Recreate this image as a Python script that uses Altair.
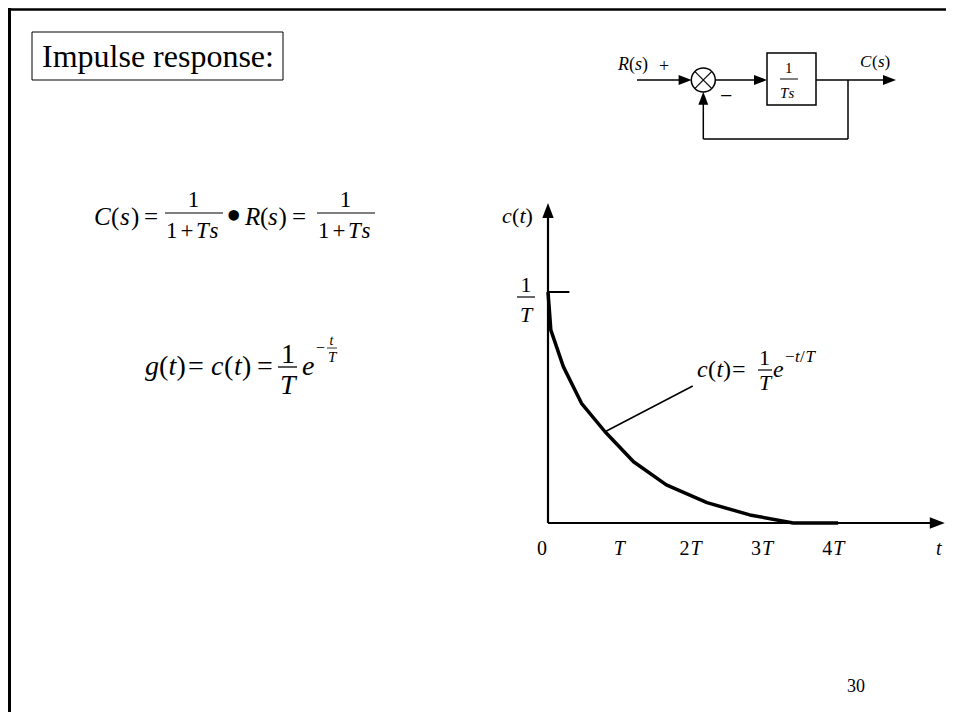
import altair as alt
import pandas as pd

FONT = "Liberation Serif"

# ---------------- values ----------------
# impulse response c(t): t in units of T, c in units of 1/T
curve_t = [0.0, 0.04, 0.215, 0.47, 0.80, 1.20, 1.66, 2.23, 2.83, 3.44, 4.07]
curve_c = [1.0, 0.835, 0.677, 0.518, 0.395, 0.265, 0.165, 0.088, 0.035, 0.0, 0.0]

axis_labels = ["0", "T", "2T", "3T", "4T", "t"]
axis_label_t = [0, 1, 2, 3, 4, 5.48]
label_c = -0.1385            # level of the time-axis labels (c units)

x_axis_end = 5.565           # arrow tip of the time axis (t units)
y_axis_end = 1.385           # arrow tip of the c(t) axis (c units)
level_tick_t = [0.0, 0.30]   # short mark at c = 1/T
leader_t = [0.80, 2.03]      # leader line from the curve to its formula
leader_c = [0.395, 0.593]

# ---------------- scales ----------------
W, H = 938, 704
T_SCALE = alt.Scale(domain=[(8 - 548) / 71.3, (946 - 548) / 71.3], nice=False, zero=False)
C_SCALE = alt.Scale(domain=[(523 - 712) / 231, (523 - 8) / 231], nice=False, zero=False)
PX_SCALE = alt.Scale(domain=[8, 946], nice=False, zero=False)
PY_SCALE = alt.Scale(domain=[8, 712], nice=False, zero=False, reverse=True)


def tx(f):
    return alt.X(f, type="quantitative", scale=T_SCALE, axis=None)


def cy(f):
    return alt.Y(f, type="quantitative", scale=C_SCALE, axis=None)


def px(f):
    return alt.X(f, type="quantitative", scale=PX_SCALE, axis=None)


def py(f):
    return alt.Y(f, type="quantitative", scale=PY_SCALE, axis=None)


ARROW = "M0,0L-2,-0.76L-2,0.76Z"

# ---------------- plot layers (data units) ----------------
curve_df = pd.DataFrame({"t": curve_t, "c": curve_c, "o": list(range(len(curve_t)))})
curve = alt.Chart(curve_df).mark_line(color="black", strokeWidth=3.5, strokeJoin="round").encode(
    x=tx("t"), y=cy("c"), order="o:Q")

axes_df = pd.DataFrame({"t": [0, 0], "c": [0, 0], "t2": [x_axis_end - 0.1, 0], "c2": [0, y_axis_end - 0.05]})
axes = alt.Chart(axes_df).mark_rule(color="black", strokeWidth=2.2).encode(
    x=tx("t"), y=cy("c"), x2="t2", y2="c2")

tick_df = pd.DataFrame({"t": [level_tick_t[0]], "c": [1.0], "t2": [level_tick_t[1]], "c2": [1.0]})
tick = alt.Chart(tick_df).mark_rule(color="black", strokeWidth=2).encode(
    x=tx("t"), y=cy("c"), x2="t2", y2="c2")

leader_df = pd.DataFrame({"t": [leader_t[0]], "c": [leader_c[0]], "t2": [leader_t[1]], "c2": [leader_c[1]]})
leader = alt.Chart(leader_df).mark_rule(color="black", strokeWidth=1.5).encode(
    x=tx("t"), y=cy("c"), x2="t2", y2="c2")

axis_arrow_df = pd.DataFrame({"t": [x_axis_end, 0], "c": [0, y_axis_end], "a": [0, 270]})
axis_arrows = alt.Chart(axis_arrow_df).mark_point(
    shape=ARROW, filled=True, color="black", size=225, opacity=1, strokeWidth=0).encode(
    x=tx("t"), y=cy("c"), angle=alt.Angle("a:Q", scale=None))

num_rows, let_after_rows, let_alone_rows = [], [], []
for lab, t in zip(axis_labels, axis_label_t):
    num = "".join(ch for ch in lab if ch.isdigit())
    let = "".join(ch for ch in lab if ch.isalpha())
    if num:
        num_rows.append({"t": t, "c": label_c, "s": num})
        if let:
            let_after_rows.append({"t": t, "c": label_c, "s": let})
    elif let:
        let_alone_rows.append({"t": t, "c": label_c, "s": let})

lab_num = alt.Chart(pd.DataFrame(num_rows)).mark_text(
    align="right", baseline="alphabetic", font=FONT, fontSize=20, color="black", dx=-1).encode(
    x=tx("t"), y=cy("c"), text="s:N")
lab_after = alt.Chart(pd.DataFrame(let_after_rows)).mark_text(
    align="left", baseline="alphabetic", font=FONT, fontSize=20, fontStyle="italic", color="black").encode(
    x=tx("t"), y=cy("c"), text="s:N")
lab_alone = alt.Chart(pd.DataFrame(let_alone_rows)).mark_text(
    align="center", baseline="alphabetic", font=FONT, fontSize=20, fontStyle="italic", color="black").encode(
    x=tx("t"), y=cy("c"), text="s:N")

# ---------------- slide decorations (page pixels) ----------------
segments = [
    # slide frame
    (8, 9.5, 946, 9.5, 2.5), (9.5, 8, 9.5, 712, 3),
    # block diagram
    (637, 80, 686, 80, 1.5), (715, 80, 760, 80, 1.5), (816, 80, 890, 80, 1.5),
    (848, 80, 848, 139, 1.5), (848, 139, 703.3, 139, 1.5), (703.3, 139, 703.3, 97, 1.5),
    (695, 71.7, 711.6, 88.3, 1.2), (695, 88.3, 711.6, 71.7, 1.2),
    (780, 79, 798, 79, 1),
    # fraction bars
    (165, 213, 223, 213, 1.2), (317, 213, 375, 213, 1.2),
    (278, 367, 297, 367, 1.3), (327, 348, 337, 348, 0.8),
    (758, 370, 772, 370, 1.2), (517, 297, 535, 297, 1.2),
]
seg_df = pd.DataFrame(segments, columns=["x", "y", "x2", "y2", "w"])
seg = alt.Chart(seg_df).mark_rule(color="black").encode(
    x=px("x"), y=py("y"), x2="x2", y2="y2", strokeWidth=alt.StrokeWidth("w:Q", scale=None, legend=None))

boxes_df = pd.DataFrame([(32, 32, 283, 80, 1.0), (767, 53, 816, 105, 1.5)], columns=["x", "y", "x2", "y2", "w"])
boxes = alt.Chart(boxes_df).mark_rect(fillOpacity=0, stroke="black").encode(
    x=px("x"), y=py("y"), x2="x2", y2="y2", strokeWidth=alt.StrokeWidth("w:Q", scale=None, legend=None))

circle = alt.Chart(pd.DataFrame({"x": [703.3], "y": [80]})).mark_point(
    shape="circle", filled=False, size=576, color="black", strokeWidth=1.5, opacity=1).encode(
    x=px("x"), y=py("y"))

diag_arrow_df = pd.DataFrame([(691.6, 80, 0), (767, 80, 0), (896, 80, 0), (703.3, 91.7, 270)],
                             columns=["x", "y", "a"])
diag_arrows = alt.Chart(diag_arrow_df).mark_point(
    shape=ARROW, filled=True, color="black", size=169, opacity=1, strokeWidth=0).encode(
    x=px("x"), y=py("y"), angle=alt.Angle("a:Q", scale=None))

pieces = [
    ("Impulse response:", 42, 67, 32, 0), ("30", 847, 692, 18, 0),
    # C(s) = 1/(1+Ts) . R(s) = 1/(1+Ts)
    ("C", 94, 225, 25, 1), ("(", 111, 225, 25, 0), ("s", 120, 225, 25, 1), (")", 131, 225, 25, 0),
    ("=", 144, 225, 25, 0), ("1", 187.75, 207, 23, 0),
    ("1", 166, 238, 23, 0), ("+", 180.5, 238, 23, 0), ("T", 196, 238, 23, 1), ("s", 209.5, 238, 23, 1),
    ("\u2022", 226, 230, 44, 0),
    ("R", 245, 225, 25, 1), ("(", 260, 225, 25, 0), ("s", 268, 225, 25, 1), (")", 278.5, 225, 25, 0),
    ("=", 292, 225, 25, 0), ("1", 339.75, 207, 23, 0),
    ("1", 318, 238, 23, 0), ("+", 332.5, 238, 23, 0), ("T", 348, 238, 23, 1), ("s", 361.5, 238, 23, 1),
    # g(t) = c(t) = 1/T e^{-t/T}
    ("g", 145, 375, 28, 1), ("(", 159, 375, 28, 0), ("t", 168.5, 375, 28, 1), (")", 176.5, 375, 28, 0),
    ("=", 188, 375, 28, 0),
    ("c", 211, 375, 28, 1), ("(", 224, 375, 28, 0), ("t", 234, 375, 28, 1), (")", 242, 375, 28, 0),
    ("=", 257, 375, 28, 0), ("1", 281, 363, 28, 0), ("T", 280, 394, 28, 1), ("e", 302, 375, 28, 1),
    ("\u2212", 316, 353, 16, 0), ("t", 329.5, 345, 14, 1), ("T", 328, 362, 15, 1),
    # formula next to the curve
    ("c", 697, 377, 24, 1), ("(", 708, 377, 24, 0), ("t", 716.5, 377, 24, 1), (")", 723, 377, 24, 0),
    ("=", 732, 377, 24, 0), ("1", 759, 365, 22, 0), ("T", 759, 390, 22, 1), ("e", 773, 377, 24, 1),
    ("\u2212", 785, 362, 17, 0), ("t", 795, 362, 17, 1), ("/", 800, 362, 17, 0), ("T", 805.5, 362, 17, 1),
    # axis titles
    ("c", 502, 223, 22, 1), ("(", 512, 223, 22, 0), ("t", 519.5, 223, 22, 1), (")", 525.5, 223, 22, 0),
    ("1", 520.5, 292, 22, 0), ("T", 520, 322, 22, 1),
    # block diagram text
    ("R", 618, 70, 18, 1), ("(", 629, 70, 18, 0), ("s", 635, 70, 18, 1), (")", 642, 70, 18, 0),
    ("+", 659, 72, 18, 0), ("\u2212", 720, 103, 22, 0),
    ("1", 785, 73, 15, 0), ("T", 780, 98, 15, 1), ("s", 788.5, 98, 15, 1),
    ("C", 860, 67, 17, 1), ("(", 872, 67, 17, 0), ("s", 878, 67, 17, 1), (")", 884.5, 67, 17, 0),
]
txt_df = pd.DataFrame(pieces, columns=["s", "x", "y", "fs", "it"])


def text_layer(italic):
    sub = txt_df[txt_df["it"] == (1 if italic else 0)]
    kw = dict(align="left", baseline="alphabetic", font=FONT, color="black")
    if italic:
        kw["fontStyle"] = "italic"
    return alt.Chart(sub).mark_text(**kw).encode(
        x=px("x"), y=py("y"), text="s:N", size=alt.Size("fs:Q", scale=None, legend=None))


chart = alt.layer(
    seg, boxes, circle, diag_arrows,
    axes, tick, leader, curve, axis_arrows,
    lab_num, lab_after, lab_alone,
    text_layer(False), text_layer(True),
).resolve_scale(x="independent", y="independent").properties(
    width=W, height=H, padding=0, autosize=alt.AutoSizeParams(type="none"), background="white"
).configure_view(stroke=None)

chart.save("out.html", embed_options={"renderer": "svg", "actions": False})
